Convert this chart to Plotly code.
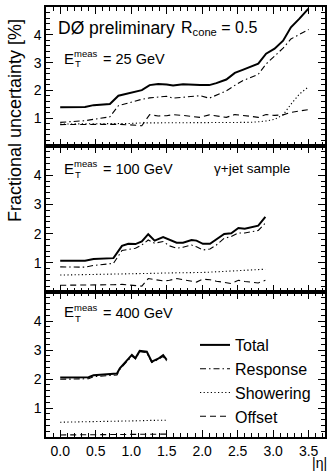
import plotly.graph_objects as go
from plotly.subplots import make_subplots

# ---------------- data ----------------
series_names = ["Total", "Response", "Showering", "Offset"]

# E_T^meas = 25 GeV
eta_25 = [0.0, 0.35, 0.47, 0.7, 0.82, 0.98, 1.15, 1.26, 1.38, 1.5, 1.59, 1.73, 1.85, 1.97,
          2.1, 2.2, 2.34, 2.46, 2.57, 2.67, 2.79, 2.9, 3.02, 3.14, 3.25, 3.37, 3.5]
total_25 = [1.39, 1.40, 1.47, 1.51, 1.81, 1.90, 2.01, 2.19, 2.23, 2.21, 2.18, 2.22, 2.20, 2.19,
            2.19, 2.26, 2.39, 2.63, 2.74, 2.84, 2.96, 3.32, 3.50, 3.79, 4.27, 4.58, 4.95]
response_25 = [0.85, 0.91, 0.96, 1.05, 1.45, 1.57, 1.68, 1.73, 1.77, 1.79, 1.72, 1.76, 1.79, 1.81,
               1.72, 1.84, 1.98, 2.18, 2.35, 2.45, 2.58, 2.95, 3.22, 3.52, 3.85, 4.02, 4.19]
showering_25 = [0.79, 0.79, 0.79, 0.80, 0.80, 0.81, 0.83, 0.83, 0.83, 0.83, 0.83, 0.83, 0.83, 0.83,
                0.83, 0.83, 0.84, 0.84, 0.84, 0.85, 0.87, 0.90, 0.96, 1.12, 1.50, 1.87, 2.13]
offset_25 = [0.77, 0.78, 0.78, 0.77, 0.78, 0.76, 0.73, 1.13, 1.08, 1.09, 1.13, 1.10, 1.06, 1.03,
             1.12, 1.08, 1.03, 1.13, 1.11, 1.07, 1.03, 1.13, 1.10, 1.12, 1.21, 1.27, 1.31]

# E_T^meas = 100 GeV
eta_100 = [0.0, 0.35, 0.47, 0.75, 0.87, 0.96, 1.06, 1.15, 1.24, 1.33, 1.45, 1.54, 1.64, 1.73,
           1.85, 1.92, 2.01, 2.11, 2.2, 2.31, 2.41, 2.51, 2.6, 2.79, 2.89]
total_100 = [1.07, 1.07, 1.13, 1.16, 1.58, 1.65, 1.64, 1.73, 1.98, 1.76, 1.88, 1.78, 1.69, 1.69,
             1.78, 1.76, 1.65, 1.65, 1.81, 1.99, 2.01, 2.19, 2.17, 2.27, 2.57]
response_100 = [0.86, 0.85, 0.91, 0.98, 1.42, 1.47, 1.50, 1.61, 1.78, 1.67, 1.73, 1.58, 1.50, 1.53,
                1.61, 1.55, 1.44, 1.47, 1.61, 1.84, 1.90, 2.02, 2.02, 2.11, 2.36]
showering_100 = [0.58, 0.59, 0.60, 0.61, 0.62, 0.62, 0.63, 0.63, 0.64, 0.64, 0.65, 0.65, 0.65, 0.66,
                 0.66, 0.67, 0.67, 0.68, 0.69, 0.70, 0.71, 0.72, 0.73, 0.76, 0.78]
offset_100 = [0.23, 0.23, 0.23, 0.25, 0.26, 0.24, 0.21, 0.20, 0.46, 0.42, 0.38, 0.40, 0.46, 0.42,
              0.38, 0.34, 0.44, 0.42, 0.37, 0.34, 0.29, 0.40, 0.36, 0.31, 0.40]

# E_T^meas = 400 GeV
eta_400 = [0.0, 0.4, 0.47, 0.56, 0.66, 0.8, 0.84, 0.94, 1.01, 1.06, 1.12, 1.22, 1.29, 1.38, 1.45, 1.5]
total_400 = [2.05, 2.06, 2.13, 2.14, 2.16, 2.19, 2.37, 2.62, 2.83, 2.72, 2.97, 2.94, 2.60, 2.70, 2.82, 2.66]
response_400 = [1.99, 2.01, 2.08, 2.09, 2.12, 2.14, 2.33, 2.58, 2.79, 2.69, 2.94, 2.91, 2.57, 2.67, 2.78, 2.62]
showering_400 = [0.51, 0.52, 0.53, 0.53, 0.54, 0.54, 0.55, 0.55, 0.56, 0.56, 0.56, 0.57, 0.57, 0.57, 0.58, 0.58]
offset_400 = [0.07, 0.08, 0.08, 0.09, 0.08, 0.09, 0.10, 0.09, 0.08, 0.09, 0.10, 0.10, 0.09, 0.10, 0.10, 0.10]

energy_labels = ["25", "100", "400"]
x_tick_values = [0.0, 0.5, 1.0, 1.5, 2.0, 2.5, 3.0, 3.5]
y_tick_values = [1, 2, 3, 4]

panels = [
    (eta_25, [total_25, response_25, showering_25, offset_25]),
    (eta_100, [total_100, response_100, showering_100, offset_100]),
    (eta_400, [total_400, response_400, showering_400, offset_400]),
]

# ---------------- styling ----------------
FONT = "Liberation Sans, Arial, Helvetica, sans-serif"
line_styles = [
    dict(color="black", width=2.0, dash="solid"),
    dict(color="black", width=1.1, dash="6px,3px,1.5px,3px"),
    dict(color="black", width=1.1, dash="1.2px,2.4px"),
    dict(color="black", width=1.1, dash="6px,4px"),
]

W, H = 330, 473
L, R, T, B = 46, 5, 7, 36
PW, PH = W - L - R, H - T - B


def px(xp):
    return (xp - L) / PW


def py(yp):
    return (H - B - yp) / PH


fig = make_subplots(rows=3, cols=1, shared_xaxes=True, vertical_spacing=0,
                    row_heights=[139, 146, 145])

for row, (eta, vals) in enumerate(panels, start=1):
    for name, v, st in zip(series_names, vals, line_styles):
        fig.add_trace(go.Scatter(x=eta, y=v, mode="lines", name=name, line=st,
                                 legendgroup=name, showlegend=(row == 3),
                                 hoverinfo="skip"), row=row, col=1)

minor_y = [round(0.2 * k, 1) for k in range(1, 25) if k % 5 != 0]

fig.update_xaxes(range=[-0.2, 3.73], tickmode="array", tickvals=x_tick_values,
                 tickformat=".1f", ticks="inside", ticklen=7, tickwidth=1, tickcolor="black",
                 showline=True, linecolor="black", linewidth=1.5, mirror="allticks",
                 showgrid=False, zeroline=False, automargin=False,
                 minor=dict(tickmode="linear", tick0=0, dtick=0.1, ticks="inside",
                            ticklen=4, tickcolor="black", tickwidth=1, showgrid=False),
                 tickfont=dict(family=FONT, size=14, color="black"))
fig.update_yaxes(range=[0, 5], tickmode="array", tickvals=y_tick_values,
                 ticks="inside", ticklen=7, tickwidth=1, tickcolor="black",
                 showline=True, linecolor="black", linewidth=1.5, mirror="allticks",
                 showgrid=False, zeroline=False, automargin=False,
                 minor=dict(tickmode="array", tickvals=minor_y, ticks="inside",
                            ticklen=4, tickcolor="black", tickwidth=1, showgrid=False),
                 tickfont=dict(family=FONT, size=14, color="black"))

ann = []


def add_text(text, xp, yp, size, xanchor="left", yanchor="middle", angle=0):
    ann.append(dict(text=text, x=px(xp), y=py(yp), xref="paper", yref="paper",
                    xanchor=xanchor, yanchor=yanchor, showarrow=False, textangle=angle,
                    font=dict(family=FONT, size=size, color="black")))


add_text("DØ preliminary", 56, 28, 17.5)
add_text("R<sub>cone</sub> = 0.5", 179, 29, 16)
add_text("γ+jet sample", 212, 168, 13.5)

e_centers = [58, 168, 312]
for lab, yc in zip(energy_labels, e_centers):
    add_text("E", 62, yc, 15)
    add_text("meas", 72, yc - 5, 9.5)
    add_text("T", 73, yc + 6, 9.5)
    add_text("= " + lab + " GeV", 101, yc + 1, 14.5)

add_text("Fractional uncertainty [%]", 15, 121, 18, xanchor="center", angle=-90)
add_text("|η|", 329, 463, 14, xanchor="right")

fig.update_layout(
    width=W, height=H,
    margin=dict(l=L, r=R, t=T, b=B, autoexpand=False),
    paper_bgcolor="white", plot_bgcolor="white",
    annotations=ann,
    showlegend=True,
    legend=dict(xref="container", yref="container", x=195 / W, y=1 - 328 / H,
                xanchor="left", yanchor="top",
                bgcolor="rgba(0,0,0,0)", font=dict(family=FONT, size=16, color="black"),
                itemwidth=30, tracegroupgap=0, traceorder="normal"),
)

fig.write_html("out.html",
               config={"displayModeBar": False, "displaylogo": False},
               post_script="document.body.style.margin='0px';document.body.style.overflow='hidden';")
